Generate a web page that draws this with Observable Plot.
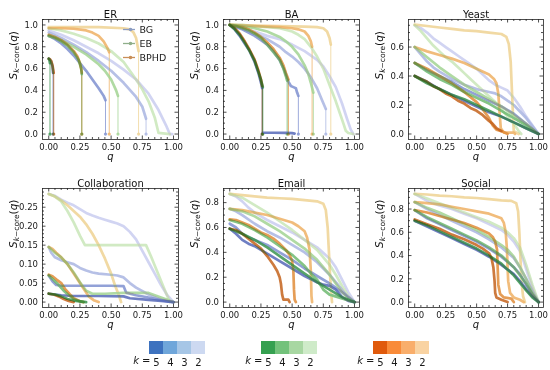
<!DOCTYPE html>
<html><head><meta charset="utf-8">
<script src="https://cdn.jsdelivr.net/npm/d3@7"></script>
<script src="https://cdn.jsdelivr.net/npm/@observablehq/plot@0.6"></script>
<style>
html,body{margin:0;padding:0;background:#fff;}
#root{position:relative;width:550px;height:370px;overflow:hidden;font-family:"DejaVu Sans",sans-serif;}
#root > div{position:absolute;}
</style></head><body><div id="root"></div>
<script>
// ---------- categories / ticks ----------
const METHODS = ["BG", "EB", "BPHD"];
const K_ORDER = [5, 4, 3, 2];
// colour-bar swatches
const BLUES   = ["#3d72bf", "#6fa6da", "#a6c6e6", "#cdd9f1"];
const GREENS  = ["#35a050", "#73c27b", "#a8d7a2", "#cfebc9"];
const ORANGES = ["#e05a0c", "#f98b39", "#f9ae6b", "#f9d3a2"];
// curve colours as they appear in the panels
const LINE_BLUES   = ["#5668b8", "#7f90d0", "#a9b5e2", "#c9cdf0"];
const LINE_GREENS  = ["#3a9450", "#6fba70", "#a2d393", "#c9e6b9"];
const LINE_ORANGES = ["#c4631c", "#e08c38", "#eeb064", "#eed293"];
const LEGEND_COLORS = ["#8b9cc2", "#8fae8a", "#c98f58"];
const X_TICKS = [0, 0.25, 0.5, 0.75, 1];
const Y_TICKS_UNIT = [0, 0.2, 0.4, 0.6, 0.8, 1.0];
const Y_TICKS_YEAST = [0, 0.2, 0.4, 0.6];
const Y_TICKS_COLLAB = [0, 0.05, 0.1, 0.15, 0.2, 0.25];
const Y_TICKS_08 = [0, 0.2, 0.4, 0.6, 0.8];

// ---------- series: [k, falls to zero (1/0), [[q, S], ...]] ----------
const ER_BG = [
  [2,0,[[0,.95],[.1,.91],[.2,.86],[.3,.8],[.4,.74],[.5,.67],[.6,.59],[.7,.5],[.8,.37],[.88,.22],[.94,.08],[.97,0],[.99,0]]],
  [3,1,[[0,.93],[.1,.88],[.2,.82],[.3,.75],[.4,.67],[.5,.58],[.6,.47],[.7,.34],[.75,.25],[.78,.14]]],
  [4,1,[[0,.9],[.05,.87],[.1,.83],[.15,.78],[.2,.72],[.25,.65],[.3,.58],[.35,.5],[.4,.42],[.44,.35],[.455,.31]]],
  [5,1,[[0,.69],[.01,.68],[.02,.66],[.03,.62],[.035,.56]]]
];
const ER_EB = [
  [2,0,[[0,.97],[.1,.95],[.2,.92],[.3,.88],[.4,.83],[.5,.76],[.6,.66],[.7,.5],[.75,.41],[.8,.3],[.85,.15],[.88,.01],[.97,0]]],
  [3,1,[[0,.9],[.05,.88],[.1,.86],[.2,.8],[.3,.73],[.4,.64],[.45,.58],[.5,.5],[.54,.4],[.555,.35]]],
  [4,1,[[0,.9],[.05,.88],[.1,.85],[.15,.81],[.2,.75],[.24,.68],[.26,.6],[.265,.55]]],
  [5,1,[[0,.69],[.005,.68],[.01,.65]]]
];
const ER_BPHD = [
  [2,1,[[0,.98],[.2,.98],[.4,.98],[.6,.97],[.65,.96],[.68,.93],[.7,.88],[.71,.82],[.72,.76]]],
  [3,1,[[0,.97],[.1,.97],[.2,.965],[.3,.95],[.35,.93],[.4,.9],[.44,.85],[.47,.79],[.485,.75]]],
  [4,1,[[0,.91],[.05,.89],[.1,.86],[.15,.82],[.2,.76],[.23,.71],[.25,.65],[.26,.6],[.265,.56]]],
  [5,1,[[0,.69],[.01,.685],[.02,.67],[.03,.63],[.04,.56]]]
];

const BA_BG = [
  [2,0,[[0,1],[.1,.97],[.2,.94],[.3,.9],[.4,.87],[.5,.82],[.6,.76],[.7,.68],[.75,.62],[.8,.53],[.85,.43],[.9,.28],[.94,.14],[.97,.04],[.99,0]]],
  [3,1,[[0,1],[.1,.97],[.2,.92],[.3,.87],[.4,.8],[.45,.75],[.5,.71],[.55,.66],[.6,.6],[.65,.52],[.7,.42],[.74,.31],[.77,.23]]],
  [4,1,[[0,1],[.05,.98],[.1,.96],[.15,.93],[.2,.9],[.25,.86],[.3,.82],[.35,.76],[.4,.68],[.44,.58],[.47,.48],[.49,.44],[.51,.43],[.53,.42],[.54,.38],[.55,.35]]],
  [5,1,[[0,1],[.04,.96],[.08,.9],[.12,.83],[.16,.76],[.2,.66],[.23,.56],[.255,.45],[.26,.42]]],
  [5,0,[[.265,.012],[.35,.012],[.45,.01],[.5,.008],[.52,.004]]]
];
const BA_EB = [
  [2,0,[[0,1],[.1,1],[.2,.99],[.3,.98],[.4,.97],[.5,.94],[.55,.91],[.6,.87],[.65,.8],[.7,.71],[.75,.6],[.8,.45],[.85,.3],[.88,.2],[.91,.1],[.93,.03],[.95,.01],[.99,0]]],
  [3,1,[[0,1],[.1,.99],[.2,.97],[.3,.94],[.4,.89],[.45,.85],[.5,.8],[.55,.73],[.6,.63],[.63,.55],[.65,.47],[.67,.38]]],
  [4,1,[[0,1],[.05,.99],[.1,.97],[.15,.95],[.2,.92],[.25,.88],[.3,.82],[.35,.75],[.4,.68],[.43,.6],[.45,.53],[.46,.49]]],
  [5,1,[[0,1],[.04,.96],[.08,.91],[.12,.84],[.16,.76],[.2,.67],[.23,.57],[.25,.5],[.265,.43]]]
];
const BA_BPHD = [
  [2,1,[[0,1],[.2,.995],[.4,.99],[.6,.985],[.7,.98],[.75,.97],[.78,.94],[.8,.88],[.81,.82]]],
  [3,1,[[0,1],[.1,.995],[.2,.99],[.3,.985],[.4,.98],[.5,.97],[.55,.96],[.6,.94],[.63,.9],[.65,.85],[.66,.8]]],
  [4,1,[[0,1],[.05,.99],[.1,.98],[.15,.96],[.2,.93],[.25,.89],[.3,.84],[.35,.78],[.4,.7],[.43,.63],[.45,.56],[.47,.5]]],
  [5,1,[[0,1],[.04,.97],[.08,.92],[.12,.85],[.16,.77],[.2,.68],[.23,.58],[.25,.5],[.26,.44]]]
];

const YEAST_BG = [
  [2,0,[[0,.75],[.05,.73],[.1,.7],[.15,.66],[.2,.63],[.25,.6],[.3,.57],[.35,.54],[.4,.51],[.45,.48],[.5,.45],[.55,.41],[.6,.37],[.65,.34],[.7,.32],[.75,.3],[.8,.25],[.85,.19],[.9,.12],[.95,.06],[1,0]]],
  [3,0,[[0,.6],[.05,.55],[.1,.5],[.15,.46],[.2,.43],[.3,.38],[.4,.34],[.5,.31],[.6,.29],[.65,.28],[.7,.26],[.8,.2],[.9,.11],[1,0]]],
  [4,0,[[0,.49],[.1,.44],[.2,.4],[.3,.36],[.4,.31],[.5,.27],[.6,.23],[.7,.19],[.8,.14],[.9,.07],[1,0]]],
  [5,0,[[0,.4],[.1,.36],[.2,.31],[.3,.27],[.4,.23],[.5,.19],[.6,.15],[.7,.12],[.8,.08],[.9,.04],[1,0]]]
];
const YEAST_EB = [
  [2,0,[[0,.75],[.05,.71],[.1,.66],[.15,.61],[.2,.57],[.25,.53],[.3,.5],[.35,.46],[.4,.42],[.45,.38],[.5,.34],[.55,.3],[.6,.26],[.65,.22],[.7,.17],[.75,.12],[.8,.07],[.84,.02],[.86,0]]],
  [3,0,[[0,.6],[.1,.53],[.2,.46],[.3,.4],[.4,.34],[.5,.29],[.6,.24],[.7,.19],[.8,.13],[.9,.07],[1,0]]],
  [4,0,[[0,.49],[.1,.43],[.2,.38],[.3,.34],[.4,.29],[.5,.25],[.6,.21],[.7,.16],[.8,.11],[.9,.06],[1,0]]],
  [5,0,[[0,.4],[.1,.35],[.2,.31],[.3,.27],[.4,.24],[.5,.2],[.6,.16],[.7,.12],[.8,.08],[.9,.04],[1,0]]]
];
const YEAST_BPHD = [
  [2,0,[[0,.755],[.1,.745],[.2,.735],[.3,.725],[.4,.715],[.5,.71],[.6,.7],[.7,.69],[.74,.67],[.76,.62],[.775,.5],[.785,.3],[.795,.1],[.8,.02],[.84,0]]],
  [3,0,[[0,.6],[.1,.57],[.2,.545],[.3,.52],[.4,.49],[.5,.45],[.6,.41],[.64,.38],[.66,.35],[.675,.28],[.685,.15],[.695,.04],[.72,.01],[.8,.01],[.81,0]]],
  [4,0,[[0,.49],[.1,.45],[.2,.4],[.3,.35],[.4,.29],[.5,.22],[.55,.17],[.6,.11],[.63,.06],[.66,.03],[.7,.02],[.75,0]]],
  [5,0,[[0,.4],[.05,.38],[.1,.36],[.15,.33],[.2,.31],[.25,.28],[.3,.26],[.35,.23],[.4,.21],[.45,.18],[.5,.16],[.55,.13],[.6,.09],[.63,.07],[.66,.04],[.7,.02]]]
];

const COLLAB_BG = [
  [2,0,[[0,.285],[.05,.28],[.1,.27],[.15,.262],[.2,.255],[.25,.245],[.3,.235],[.35,.228],[.4,.222],[.45,.217],[.5,.212],[.55,.207],[.6,.2],[.65,.185],[.7,.165],[.75,.135],[.8,.105],[.85,.075],[.9,.045],[.95,.018],[1,0]]],
  [3,0,[[0,.145],[.02,.13],[.05,.118],[.1,.11],[.15,.105],[.2,.1],[.25,.09],[.3,.083],[.35,.078],[.4,.075],[.5,.072],[.55,.07],[.6,.065],[.65,.05],[.7,.038],[.8,.02],[.9,.007],[1,0]]],
  [4,0,[[0,.07],[.03,.055],[.06,.045],[.1,.043],[.3,.043],[.5,.043],[.6,.042],[.62,.025],[.7,.018],[.8,.012],[.9,.005],[1,0]]],
  [5,0,[[0,.022],[.05,.02],[.1,.018],[.2,.016],[.4,.016],[.6,.015],[.65,.01],[.8,.006],[.9,.003],[1,0]]]
];
const COLLAB_EB = [
  [2,0,[[0,.285],[.05,.278],[.1,.265],[.15,.24],[.2,.21],[.25,.175],[.29,.15],[.4,.15],[.5,.15],[.6,.15],[.7,.15],[.78,.15],[.82,.12],[.87,.08],[.92,.04],[.97,0]]],
  [3,0,[[0,.145],[.05,.13],[.1,.118],[.15,.1],[.2,.078],[.25,.052],[.3,.03],[.35,.022],[.45,.022],[.6,.024],[.8,.024],[.9,.012],[1,0]]],
  [4,0,[[0,.07],[.04,.058],[.08,.045],[.12,.03],[.16,.018],[.2,.008],[.25,.002],[.28,0]]],
  [5,0,[[0,.022],[.05,.02],[.1,.015],[.15,.008],[.2,.004],[.3,0]]]
];
const COLLAB_BPHD = [
  [2,0,[[0,.285],[.05,.278],[.1,.268],[.15,.255],[.2,.24],[.25,.225],[.3,.205],[.35,.18],[.4,.15],[.45,.115],[.5,.075],[.53,.045],[.56,.02],[.58,0]]],
  [3,0,[[0,.145],[.03,.14],[.06,.13],[.1,.118],[.15,.1],[.2,.075],[.25,.05],[.28,.035],[.32,.015],[.36,.005],[.4,0]]],
  [4,0,[[0,.072],[.03,.068],[.06,.06],[.1,.05],[.13,.035],[.17,.02],[.2,.01],[.25,.002],[.28,0]]],
  [5,0,[[0,.022],[.04,.02],[.08,.015],[.12,.008],[.16,.003],[.2,0]]]
];

const EMAIL_BG = [
  [2,0,[[0,.87],[.05,.85],[.1,.81],[.15,.76],[.2,.72],[.3,.66],[.4,.61],[.5,.56],[.6,.5],[.7,.44],[.8,.35],[.85,.28],[.9,.18],[.95,.08],[1,0]]],
  [3,0,[[0,.75],[.05,.73],[.1,.7],[.2,.63],[.3,.57],[.4,.52],[.5,.46],[.6,.4],[.7,.32],[.8,.22],[.9,.1],[.95,.04],[1,0]]],
  [4,0,[[0,.63],[.05,.6],[.1,.55],[.15,.52],[.2,.5],[.3,.46],[.4,.4],[.5,.34],[.6,.27],[.7,.21],[.8,.15],[.9,.08],[1,0]]],
  [5,0,[[0,.59],[.05,.55],[.1,.5],[.15,.47],[.2,.45],[.3,.39],[.4,.33],[.5,.27],[.6,.21],[.7,.16],[.75,.14],[.8,.13],[.85,.1],[.9,.04],[.95,.01],[1,0]]]
];
const EMAIL_EB = [
  [2,0,[[0,.87],[.1,.84],[.2,.78],[.3,.72],[.4,.65],[.5,.58],[.6,.5],[.7,.42],[.8,.3],[.85,.22],[.9,.13],[.95,.05],[1,0]]],
  [3,0,[[0,.75],[.1,.73],[.2,.69],[.3,.63],[.4,.57],[.5,.5],[.6,.43],[.7,.34],[.8,.22],[.85,.15],[.9,.08],[.95,.03],[1,0]]],
  [4,0,[[0,.66],[.1,.63],[.2,.58],[.3,.52],[.4,.45],[.5,.38],[.6,.29],[.65,.23],[.7,.18],[.75,.1],[.8,.06],[.9,.03],[1,0]]],
  [5,0,[[0,.59],[.1,.55],[.2,.5],[.3,.44],[.4,.37],[.5,.3],[.6,.23],[.7,.16],[.8,.1],[.9,.04],[.97,.01],[1,0]]]
];
const EMAIL_BPHD = [
  [2,0,[[0,.87],[.1,.86],[.2,.85],[.3,.84],[.4,.835],[.5,.83],[.6,.82],[.7,.81],[.75,.79],[.77,.74],[.785,.6],[.795,.4],[.805,.2],[.815,.05],[.82,0]]],
  [3,0,[[0,.75],[.1,.74],[.2,.72],[.3,.7],[.4,.67],[.5,.64],[.55,.61],[.6,.57],[.62,.52],[.64,.42],[.65,.25],[.655,.05],[.66,0]]],
  [4,0,[[0,.665],[.05,.66],[.1,.64],[.15,.62],[.2,.59],[.25,.56],[.3,.54],[.35,.51],[.4,.47],[.45,.42],[.48,.38],[.5,.33],[.51,.25],[.515,.1],[.52,.02],[.53,0]]],
  [5,0,[[0,.59],[.05,.58],[.1,.55],[.15,.51],[.2,.47],[.25,.43],[.3,.37],[.35,.3],[.38,.25],[.4,.2],[.41,.15],[.42,.06],[.43,.02],[.47,.02],[.48,0]]]
];

const SOCIAL_BG = [
  [2,0,[[0,.93],[.05,.9],[.1,.87],[.2,.83],[.3,.8],[.4,.76],[.5,.72],[.6,.67],[.7,.62],[.75,.58],[.8,.52],[.85,.44],[.88,.35],[.92,.22],[.96,.1],[1,0]]],
  [3,0,[[0,.86],[.1,.8],[.2,.75],[.3,.7],[.4,.65],[.5,.6],[.6,.54],[.7,.47],[.8,.38],[.85,.3],[.9,.2],[.95,.1],[1,0]]],
  [4,0,[[0,.79],[.1,.72],[.2,.67],[.3,.62],[.4,.57],[.5,.52],[.6,.46],[.7,.39],[.8,.3],[.85,.24],[.9,.15],[.95,.07],[1,0]]],
  [5,0,[[0,.7],[.1,.65],[.2,.6],[.3,.55],[.4,.5],[.5,.45],[.6,.39],[.7,.32],[.8,.24],[.85,.18],[.9,.11],[.95,.05],[1,0]]]
];
const SOCIAL_EB = [
  [2,0,[[0,.93],[.1,.89],[.2,.85],[.3,.81],[.4,.77],[.5,.73],[.6,.69],[.7,.64],[.75,.6],[.8,.55],[.85,.47],[.9,.32],[.95,.15],[1,0]]],
  [3,0,[[0,.86],[.1,.81],[.2,.77],[.3,.72],[.4,.67],[.5,.62],[.6,.56],[.7,.49],[.75,.45],[.8,.39],[.85,.3],[.9,.2],[.95,.08],[1,0]]],
  [4,0,[[0,.79],[.1,.73],[.2,.68],[.3,.63],[.4,.58],[.5,.53],[.6,.47],[.7,.4],[.8,.3],[.9,.16],[.95,.07],[1,0]]],
  [5,0,[[0,.7],[.1,.66],[.2,.61],[.3,.56],[.4,.51],[.5,.46],[.6,.4],[.7,.33],[.8,.23],[.9,.1],[.95,.04],[1,0]]]
];
const SOCIAL_BPHD = [
  [2,0,[[0,.93],[.1,.925],[.2,.915],[.3,.91],[.4,.9],[.5,.895],[.6,.885],[.7,.875],[.78,.87],[.82,.85],[.835,.78],[.845,.6],[.855,.35],[.865,.15],[.875,.05],[.89,0]]],
  [3,0,[[0,.86],[.1,.85],[.2,.84],[.3,.82],[.4,.8],[.5,.78],[.6,.76],[.65,.74],[.7,.72],[.72,.68],[.735,.6],[.745,.45],[.75,.3],[.755,.18],[.77,.08],[.8,.04],[.85,.02],[.88,0]]],
  [4,0,[[0,.79],[.1,.77],[.2,.74],[.3,.71],[.4,.68],[.5,.64],[.6,.59],[.63,.56],[.65,.52],[.665,.45],[.67,.3],[.675,.15],[.69,.07],[.72,.04],[.78,.03],[.8,0]]],
  [5,0,[[0,.71],[.1,.67],[.2,.63],[.3,.58],[.4,.54],[.5,.49],[.55,.46],[.6,.42],[.62,.38],[.635,.3],[.645,.18],[.65,.08],[.66,.04],[.7,.02],[.75,0]]]
];

// ---------- layout ----------
const COLS = [{left:0,width:186,mL:42,mR:8},{left:183,width:184,mL:40,mR:8},{left:366,width:184,mL:42,mR:7}];
const ROWS = [{top:0,height:170,mT:19,mB:31},{top:168,height:172,mT:20,mB:33}];
const X_DOMAIN = [-0.05, 1.04];
const PALETTE = {BG: BLUES, EB: GREENS, BPHD: ORANGES};
const LINE_PALETTE = {BG: LINE_BLUES, EB: LINE_GREENS, BPHD: LINE_ORANGES};

const PANELS = [
  {name:"ER", data:{BG:ER_BG,EB:ER_EB,BPHD:ER_BPHD}, yDomain:[-0.05,1.05], yTicks:Y_TICKS_UNIT, yFmt:".1f", yMinor:0.05, row:0, col:0},
  {name:"BA", data:{BG:BA_BG,EB:BA_EB,BPHD:BA_BPHD}, yDomain:[-0.05,1.05], yTicks:Y_TICKS_UNIT, yFmt:".1f", yMinor:0.05, row:0, col:1},
  {name:"Yeast", data:{BG:YEAST_BG,EB:YEAST_EB,BPHD:YEAST_BPHD}, yDomain:[-0.038,0.79], yTicks:Y_TICKS_YEAST, yFmt:".1f", yMinor:0.05, row:0, col:2},
  {name:"Collaboration", data:{BG:COLLAB_BG,EB:COLLAB_EB,BPHD:COLLAB_BPHD}, yDomain:[-0.0143,0.2993], yTicks:Y_TICKS_COLLAB, yFmt:".2f", yMinor:0.01, row:1, col:0},
  {name:"Email", data:{BG:EMAIL_BG,EB:EMAIL_EB,BPHD:EMAIL_BPHD}, yDomain:[-0.0435,0.9135], yTicks:Y_TICKS_08, yFmt:".1f", yMinor:0.05, row:1, col:1},
  {name:"Social", data:{BG:SOCIAL_BG,EB:SOCIAL_EB,BPHD:SOCIAL_BPHD}, yDomain:[-0.0465,0.9765], yTicks:Y_TICKS_08, yFmt:".1f", yMinor:0.05, row:1, col:2}
];

const root = document.getElementById("root");
const baseStyle = {background:"none", fontFamily:"'DejaVu Sans', sans-serif", fontSize:"8.5px", color:"#1a1a1a", overflow:"visible"};
const INK = {stroke:"#222", strokeWidth:0.8};

function place(node, left, top){
  const d = document.createElement("div");
  d.style.left = left + "px"; d.style.top = top + "px";
  d.appendChild(node); root.appendChild(d);
}
function minorTicks(step, lo, hi, majors){
  return d3.range(0, hi + 1e-9, step).map(v => +v.toFixed(4))
    .filter(v => v >= lo && v <= hi && !majors.some(t => Math.abs(t - v) < 1e-6));
}
function fixText(svg){
  d3.select(svg).selectAll("text").each(function(){
    const t = d3.select(this), s = this.textContent;
    if (s === "SKCORE") {
      t.text(null);
      t.append("tspan").attr("font-style","italic").text("S");
      t.append("tspan").attr("font-style","italic").attr("font-size","7.5px").attr("dy","2.6").text("k");
      t.append("tspan").attr("font-size","7.5px").text("\u2212core");
      t.append("tspan").attr("dy","-2.6").text("(");
      t.append("tspan").attr("font-style","italic").text("q");
      t.append("tspan").text(")");
    } else if (s === "KEQ") {
      t.text(null);
      t.append("tspan").attr("font-style","italic").text("k");
      t.append("tspan").text(" =");
    }
  });
  d3.select(svg).selectAll('g[aria-label="line"] path, g[aria-label="rule"] line, g[aria-label="dot"] circle')
    .style("mix-blend-mode","darken");
}

function buildPanel(p){
  const col = COLS[p.col], row = ROWS[p.row];
  const fh = row.height - row.mT - row.mB, fw = col.width - col.mL - col.mR;
  const rows = [], drops = [];
  let id = 0;
  for (const m of METHODS) for (const [k, jump, pts] of p.data[m]) {
    const ck = m + k; id++;
    for (const [q, S] of pts) rows.push({q, S, id, ck});
    if (jump) { const [q, S] = pts[pts.length - 1]; drops.push({q, S, ck}); }
  }
  const keys = METHODS.flatMap(m => K_ORDER.map(k => m + k));
  const range = METHODS.flatMap(m => LINE_PALETTE[m]);
  const xMinor = minorTicks(0.05, X_DOMAIN[0], X_DOMAIN[1], X_TICKS);
  const yMinor = minorTicks(p.yMinor, p.yDomain[0], p.yDomain[1], p.yTicks);
  const svg = Plot.plot({
    width: col.width, height: row.height,
    marginLeft: col.mL, marginRight: col.mR, marginTop: row.mT, marginBottom: row.mB,
    style: baseStyle,
    x: {domain: X_DOMAIN},
    y: {domain: p.yDomain},
    color: {type: "ordinal", domain: keys, range},
    marks: [
      Plot.ruleX(drops, {x: "q", y1: 0, y2: "S", stroke: "ck", strokeWidth: 0.9, strokeOpacity: 0.85}),
      Plot.dot(drops, {x: "q", y: 0, r: 1.6, fill: "ck", fillOpacity: 0.85}),
      Plot.line(rows, {x: "q", y: "S", z: "id", stroke: "ck", strokeWidth: 2.7, strokeOpacity: 0.85, strokeLinejoin: "round"}),
      Plot.frame(INK),
      Plot.tickX(X_TICKS, {x: d => d, insetTop: fh - 3.5, ...INK}),
      Plot.tickX(X_TICKS, {x: d => d, insetBottom: fh - 3.5, ...INK}),
      Plot.tickX(xMinor, {x: d => d, insetTop: fh - 2, ...INK}),
      Plot.tickX(xMinor, {x: d => d, insetBottom: fh - 2, ...INK}),
      Plot.tickY(p.yTicks, {y: d => d, insetRight: fw - 3.5, ...INK}),
      Plot.tickY(p.yTicks, {y: d => d, insetLeft: fw - 3.5, ...INK}),
      Plot.tickY(yMinor, {y: d => d, insetRight: fw - 2, ...INK}),
      Plot.tickY(yMinor, {y: d => d, insetLeft: fw - 2, ...INK}),
      Plot.axisX({ticks: X_TICKS, tickFormat: d3.format(".2f"), tickSize: 0, tickPadding: 4, label: null}),
      Plot.axisY({ticks: p.yTicks, tickFormat: d3.format(p.yFmt), tickSize: 0, tickPadding: 4.5, label: null}),
      Plot.text([p.name], {text: d => d, frameAnchor: "top", dy: -9, fontSize: 10, fill: "#111"}),
      Plot.text(["q"], {text: d => d, frameAnchor: "bottom", dy: 20, fontSize: 10, fontStyle: "italic", fill: "#111"}),
      Plot.text(["SKCORE"], {text: d => d, frameAnchor: "left", dx: -29, rotate: -90, fontSize: 10.5, fill: "#111"})
    ]
  });
  fixText(svg);
  place(svg, col.left, row.top);
}
PANELS.forEach(buildPanel);

// ---------- method legend inside ER ----------
(function(){
  const svg = Plot.plot({
    width: 50, height: 42, margin: 0, style: {...baseStyle, fontSize: "9.5px"},
    y: {type: "point", domain: METHODS, padding: 0.5, axis: null},
    color: {type: "ordinal", domain: METHODS, range: LEGEND_COLORS},
    marks: [
      Plot.tickY(METHODS, {y: d => d, stroke: d => d, insetLeft: 3, insetRight: 35, strokeWidth: 1.3}),
      Plot.dot(METHODS, {y: d => d, frameAnchor: "left", dx: 10, r: 1.8, fill: d => d}),
      Plot.text(METHODS, {y: d => d, text: d => d, frameAnchor: "left", dx: 19, textAnchor: "start", fill: "#222"})
    ]
  });
  place(svg, 120, 22);
})();

// ---------- k colour bars ----------
function buildColorbar(m, left){
  const svg = Plot.plot({
    width: 90, height: 34, marginLeft: 30, marginRight: 4, marginTop: 5, marginBottom: 16,
    style: {...baseStyle, fontSize: "10px"},
    x: {type: "band", domain: K_ORDER, padding: 0},
    color: {type: "ordinal", domain: K_ORDER, range: PALETTE[m]},
    marks: [
      Plot.cell(K_ORDER, {x: d => d, fill: d => d}),
      Plot.axisX({tickSize: 0, tickPadding: 4.5, label: null}),
      Plot.text(["KEQ"], {text: d => d, frameAnchor: "bottom-left", textAnchor: "end", dx: 1, dy: 9, fontSize: 10, fill: "#1a1a1a"})
    ]
  });
  fixText(svg);
  place(svg, left, 336);
}
buildColorbar("BG", 119);
buildColorbar("EB", 231);
buildColorbar("BPHD", 343);
</script></body></html>
